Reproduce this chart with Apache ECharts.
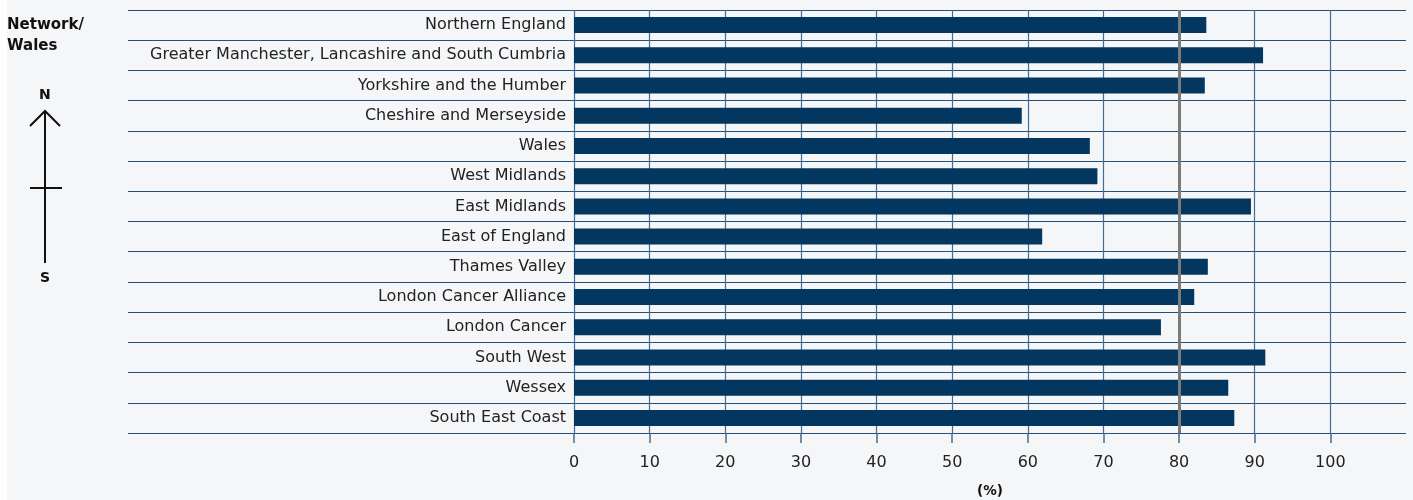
<!DOCTYPE html>
<html>
<head>
<meta charset="utf-8">
<script src="https://cdn.jsdelivr.net/npm/echarts@6/dist/echarts.min.js"></script>
<style>
html,body{margin:0;padding:0;background:#f5f6f8;}
#chart{width:1413px;height:500px;}
</style>
</head>
<body>
<div id="chart"></div>
<script>
const categories = [
  'Northern England',
  'Greater Manchester, Lancashire and South Cumbria',
  'Yorkshire and the Humber',
  'Cheshire and Merseyside',
  'Wales',
  'West Midlands',
  'East Midlands',
  'East of England',
  'Thames Valley',
  'London Cancer Alliance',
  'London Cancer',
  'South West',
  'Wessex',
  'South East Coast'
];
const values = [83.6, 91.1, 83.4, 59.2, 68.2, 69.2, 89.5, 61.9, 83.8, 82.0, 77.6, 91.4, 86.5, 87.3];
const tickValues = [0, 10, 20, 30, 40, 50, 60, 70, 80, 90, 100];
const targetValue = 80;
const axisUnit = '(%)';
const headerLabel = 'Network/\nWales';

const chart = echarts.init(document.getElementById('chart'));
const FONT = '"DejaVu Sans", "Noto Sans", sans-serif';
const gridColor = '#3f6d98';
const splitColors = tickValues.map(() => gridColor).concat(['rgba(0,0,0,0)']);

chart.setOption({
  backgroundColor: '#f5f6f8',
  animation: false,
  textStyle: {fontFamily: FONT},
  grid: [
    {left: 128, right: 7, top: 10, bottom: 67, containLabel: false, outerBoundsMode: 'none'},
    {left: 574, right: 7, top: 10, bottom: 67, containLabel: false, outerBoundsMode: 'none'}
  ],
  xAxis: [
    {gridIndex: 0, type: 'value', min: 0, max: 1, show: false},
    {
      gridIndex: 1, type: 'value', min: 0, max: 110, interval: 10,
      axisLine: {show: false},
      axisTick: {show: true, length: 10, customValues: tickValues, lineStyle: {color: gridColor, width: 1.5}},
      axisLabel: {customValues: tickValues, fontSize: 16, color: '#222', margin: 22, fontFamily: FONT},
      splitLine: {show: true, lineStyle: {color: splitColors, width: 1.2}},
      name: axisUnit, nameLocation: 'middle', nameGap: 51,
      nameTextStyle: {fontSize: 13.5, fontWeight: 'bold', color: '#111', fontFamily: FONT}
    }
  ],
  yAxis: [
    {
      gridIndex: 0, type: 'category', inverse: true, data: categories,
      axisLine: {show: false}, axisTick: {show: false}, axisLabel: {show: false},
      splitLine: {show: true, lineStyle: {color: '#24507c', width: 1.2}}
    },
    {
      gridIndex: 1, type: 'category', inverse: true, data: categories,
      axisLine: {show: false}, axisTick: {show: false},
      axisLabel: {fontSize: 16, color: '#222', margin: 8, fontFamily: FONT, padding: [6, 0, 0, 0]},
      splitLine: {show: false}
    }
  ],
  series: [{
    type: 'bar', xAxisIndex: 1, yAxisIndex: 1,
    data: values, barWidth: 16,
    itemStyle: {color: '#03375f'},
    markLine: {
      silent: true, symbol: 'none', label: {show: false},
      lineStyle: {color: '#7b7b7b', width: 3, type: 'solid'},
      data: [{xAxis: targetValue}]
    }
  }],
  graphic: [
    {type: 'rect', left: 0, top: 0, shape: {width: 7, height: 500}, style: {fill: '#ffffff'}, z: -1},
    {type: 'text', left: 7, top: 15, style: {text: headerLabel, font: 'bold 15px ' + FONT, fill: '#111', lineHeight: 21}},
    {type: 'text', left: 39, top: 88, style: {text: 'N', font: 'bold 14px ' + FONT, fill: '#111'}},
    {type: 'text', left: 40, top: 271, style: {text: 'S', font: 'bold 14px ' + FONT, fill: '#111'}},
    {type: 'polyline', shape: {points: [[30, 126], [45, 111], [60, 126]]}, style: {stroke: '#111', lineWidth: 2, fill: null}},
    {type: 'line', shape: {x1: 45, y1: 111, x2: 45, y2: 263}, style: {stroke: '#111', lineWidth: 2}},
    {type: 'line', shape: {x1: 30, y1: 188, x2: 62, y2: 188}, style: {stroke: '#111', lineWidth: 2}}
  ]
});
</script>
</body>
</html>
